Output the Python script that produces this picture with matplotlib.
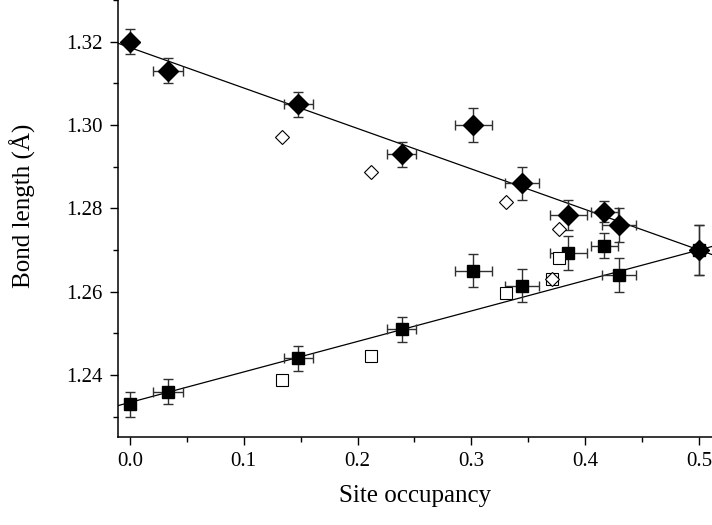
import numpy as np
import matplotlib.pyplot as plt
from matplotlib.ticker import MultipleLocator

# Ocupación de sitio para los puntos con barras de error
occ = [0.0, 0.0337, 0.148, 0.2387, 0.3017, 0.3448, 0.3852, 0.4168, 0.430, 0.5]
occ_err = [0.0, 0.013, 0.0125, 0.0127, 0.016, 0.015, 0.016, 0.012, 0.015, 0.0]

# Enlace largo (diamantes llenos) y enlace corto (cuadrados llenos)
long_bond = [1.320, 1.313, 1.305, 1.293, 1.300, 1.286, 1.2784, 1.2792, 1.276, 1.270]
long_err = [0.003, 0.003, 0.003, 0.003, 0.004, 0.004, 0.0037, 0.0025, 0.004, 0.006]
short_bond = [1.233, 1.236, 1.244, 1.251, 1.265, 1.2614, 1.2693, 1.271, 1.264, 1.270]
short_err = [0.003, 0.003, 0.003, 0.003, 0.004, 0.004, 0.004, 0.003, 0.004, 0.006]

# Puntos abiertos sin barras de error
open_occ = [0.1338, 0.2118, 0.330, 0.377, 0.3708]
open_long = [1.2971, 1.2886, 1.2814, 1.2750, 1.2630]
open_short = [1.2388, 1.2446, 1.2596, 1.2680, 1.2630]

# Rectas de ajuste definidas por dos puntos
fit_x = [0.0, 0.5]
fit_long = [1.3186, 1.2700]
fit_short = [1.2334, 1.2700]

plt.rcParams['font.family'] = ['Liberation Serif', 'DejaVu Serif']

fig = plt.figure(figsize=(7.12, 5.25), dpi=100)
ax = fig.add_axes([0.1657, 0.1676, 0.8343, 0.8324])

ax.axline((fit_x[0], fit_long[0]), (fit_x[1], fit_long[1]), color='black', lw=0.9, zorder=1)
ax.axline((fit_x[0], fit_short[0]), (fit_x[1], fit_short[1]), color='black', lw=0.9, zorder=1)

err_kw = dict(fmt='none', ecolor='#303030', elinewidth=1.0, capsize=3.5, capthick=1.0, zorder=2)
ax.errorbar(occ, long_bond, yerr=long_err, xerr=occ_err, **err_kw)
ax.errorbar(occ, short_bond, yerr=short_err, xerr=occ_err, **err_kw)

ax.plot(occ, short_bond, 's', color='black', ms=9, zorder=3)
ax.plot(occ, long_bond, 'D', color='black', ms=9.8, zorder=3)
ax.plot(open_occ, open_short, 's', mfc='white', mec='black', mew=0.8, ms=8.5, zorder=3)
ax.plot(open_occ, open_long, 'D', mfc='white', mec='black', mew=0.8, ms=6.8, zorder=4)

ax.set_xlim(-0.0105, 0.5114)
ax.set_ylim(1.2251, 1.33)
ax.xaxis.set_major_locator(MultipleLocator(0.1))
ax.xaxis.set_minor_locator(MultipleLocator(0.05))
ax.yaxis.set_major_locator(MultipleLocator(0.02))
ax.yaxis.set_minor_locator(MultipleLocator(0.01))
ax.xaxis.set_major_formatter(plt.FormatStrFormatter('%.1f'))
ax.yaxis.set_major_formatter(plt.FormatStrFormatter('%.2f'))

for side in ['top', 'right']:
    ax.spines[side].set_visible(False)
for side in ['left', 'bottom']:
    ax.spines[side].set_linewidth(1.1)
ax.tick_params(which='major', direction='out', length=6, width=1.0, labelsize=15, pad=5)
ax.tick_params(which='minor', direction='out', length=3.5, width=1.0)

ax.set_xlabel('Site occupancy', fontsize=18, labelpad=10)
ax.set_ylabel('Bond length (Å)', fontsize=18)
ax.yaxis.set_label_coords(-0.138, 0.53)

fig.savefig('out.png', dpi=100)
